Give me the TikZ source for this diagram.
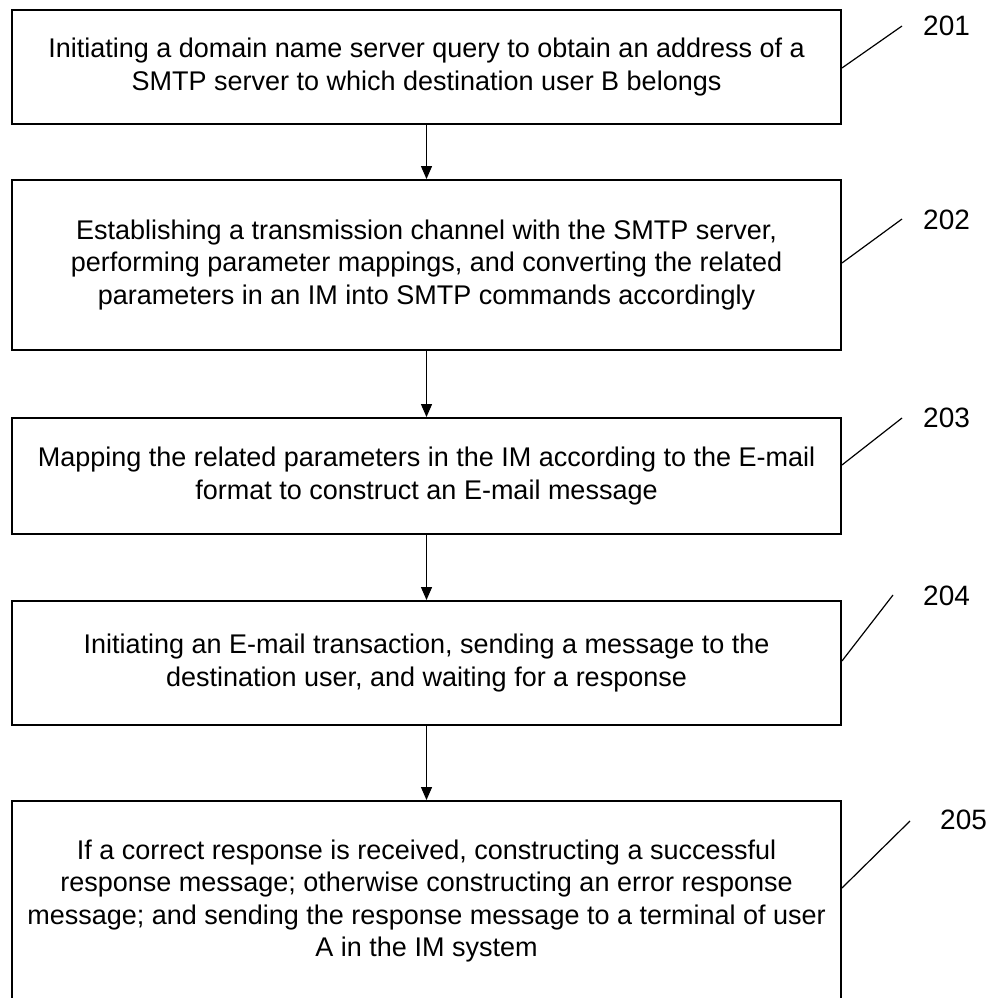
\documentclass[tikz,border=0pt]{standalone}
\usepackage{fontspec}
\setmainfont{Liberation Sans}
\usetikzlibrary{arrows.meta,calc}
\begin{document}
\begin{tikzpicture}[x=1pt,y=-1pt,
  stepbox/.style={draw,line width=1.9pt,minimum width=829pt,align=center,inner sep=0pt,font=\fontsize{27}{32.5}\selectfont},
  flow/.style={line width=1.2pt,-{Triangle[length=13pt,width=11pt]}},
  leader/.style={line width=1.2pt},
  lbl/.style={anchor=west,font=\fontsize{28}{30}\selectfont,inner sep=0pt}]
\useasboundingbox (0,0) rectangle (989,998);
\node[stepbox,minimum height=114pt] (b1) at (426.5,67) {Initiating a domain name server query to obtain an address of a\\SMTP server to which destination user B belongs};
\node[stepbox,minimum height=170pt] (b2) at (426.5,265) {Establishing a transmission channel with the SMTP server,\\performing parameter mappings, and converting the related\\parameters in an IM into SMTP commands accordingly};
\node[stepbox,minimum height=116pt] (b3) at (426.5,476) {Mapping the related parameters in the IM according to the E-mail\\format to construct an E-mail message};
\node[stepbox,minimum height=124pt] (b4) at (426.5,663) {Initiating an E-mail transaction, sending a message to the\\destination user, and waiting for a response};
\node[stepbox,minimum height=200pt] (b5) at (426.5,901) {If a correct response is received, constructing a successful\\response message; otherwise constructing an error response\\message; and sending the response message to a terminal of user\\A in the IM system};
\draw[flow] (b1) -- (b2);
\draw[flow] (b2) -- (b3);
\draw[flow] (b3) -- (b4);
\draw[flow] (b4) -- (b5);
\coordinate (e1) at (902,26);
\coordinate (e2) at (902,219);
\coordinate (e3) at (902,418);
\coordinate (e4) at (893,595);
\coordinate (e5) at (910,821);
\draw[leader] ($(b1.east)+(0,1)$) -- (e1);
\draw[leader] ($(b2.east)+(0,-2)$) -- (e2);
\draw[leader] ($(b3.east)+(0,-11)$) -- (e3);
\draw[leader] ($(b4.east)+(0,-2)$) -- (e4);
\draw[leader] ($(b5.east)+(0,-13)$) -- (e5);
\node[lbl] (l1) at (923,26) {201};
\node[lbl] (l2) at (923,220) {202};
\node[lbl] (l3) at (923,418) {203};
\node[lbl] (l4) at (923,596) {204};
\node[lbl] (l5) at (940,820) {205};
\end{tikzpicture}
\end{document}
